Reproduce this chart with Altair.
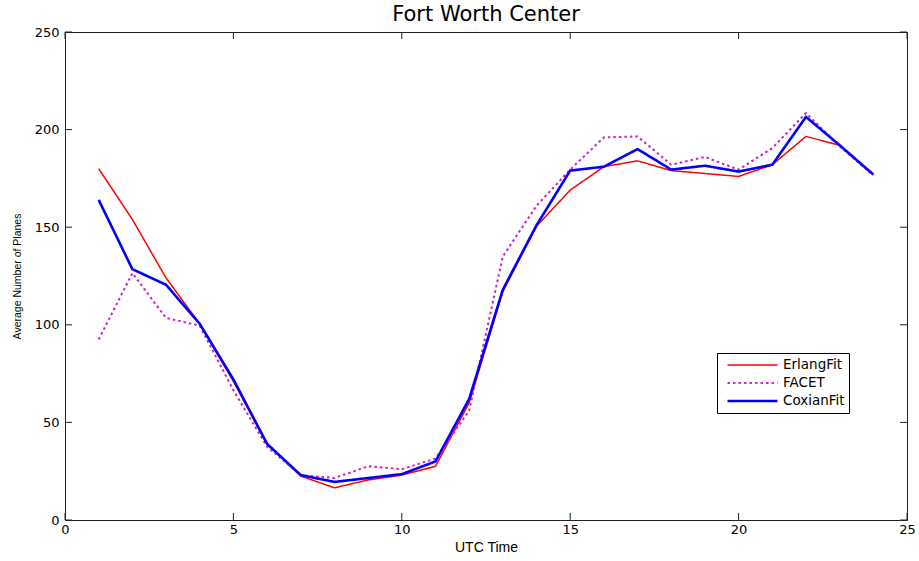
import altair as alt
import pandas as pd

# Hourly averages (UTC hour 1..24) for the three estimates
hours = list(range(1, 25))
erlang_fit = [180, 154, 124, 100.5, 71, 39, 22.5, 16.5, 20.5, 23, 27.5, 60,
              117, 150.5, 169, 181, 184, 179, 177.5, 176, 182, 196.5, 192, 177]
facet = [92.5, 126.5, 103.5, 99.5, 66.5, 37.5, 23, 21.5, 27.5, 26, 31.5, 56,
         135, 161, 179.5, 196, 196.5, 182, 186, 179.5, 190.5, 208.5, 191.5, 176.5]
coxian_fit = [164, 128.5, 120.5, 100.5, 72, 39, 23, 19.5, 21.5, 23.5, 30, 62,
              118, 151, 179, 181, 190, 179.5, 181.5, 178.5, 182, 206.5, 192, 177]

series_names = ["ErlangFit", "FACET", "CoxianFit"]
series_colors = ["#ff0000", "#cc22cc", "#0000ff"]
series_dash = [[1, 0], [2.5, 3], [1, 0]]
series_width = [1.5, 2.6, 1.5]

x_ticks = [0, 5, 10, 15, 20, 25]
y_ticks = [0, 50, 100, 150, 200, 250]

rows = []
for name, vals in zip(series_names, [erlang_fit, facet, coxian_fit]):
    for h, v in zip(hours, vals):
        rows.append({"hour": h, "planes": v, "series": name})
df = pd.DataFrame(rows)

W, H = 842, 488
TICK = 7
x_scale = alt.Scale(domain=[0, 25], nice=False, zero=False)
y_scale = alt.Scale(domain=[0, 250], nice=False)

x_axis = alt.Axis(values=x_ticks, title="UTC Time", ticks=False,
                  domain=False, grid=False, labelPadding=3, labelFlush=False,
                  labelFont="DejaVu Sans", labelFontSize=13,
                  labelColor="black", titleFont="Liberation Sans",
                  titleFontSize=14, titleFontWeight="normal",
                  titleColor="black", titlePadding=4)
y_axis = alt.Axis(values=y_ticks, title="Average Number of Planes",
                  ticks=False, domain=False, grid=False, labelFlush=False,
                  labelPadding=6, labelFont="DejaVu Sans",
                  labelFontSize=13, labelColor="black",
                  titleFont="Liberation Sans", titleFontSize=10.5,
                  titleFontWeight="normal", titleColor="black",
                  titlePadding=12)

legend = alt.Legend(
    title=None, orient="none", legendX=652, legendY=321,
    strokeColor="black", fillColor="white", padding=4,
    symbolType="stroke", symbolSize=2500, symbolStrokeWidth=2,
    symbolOffset=5, clipHeight=16, rowPadding=2,
    labelFont="DejaVu Sans", labelFontSize=13.5, labelColor="black",
    labelOffset=4, cornerRadius=0,
)

lines = alt.Chart(df).mark_line().encode(
    x=alt.X("hour:Q", scale=x_scale, axis=x_axis),
    y=alt.Y("planes:Q", scale=y_scale, axis=y_axis),
    color=alt.Color("series:N", sort=series_names,
                    scale=alt.Scale(domain=series_names, range=series_colors),
                    legend=legend),
    strokeDash=alt.StrokeDash("series:N", sort=series_names,
                              scale=alt.Scale(domain=series_names, range=series_dash),
                              legend=legend),
    strokeWidth=alt.StrokeWidth("series:N",
                                scale=alt.Scale(domain=series_names, range=series_width),
                                legend=None),
)

xt = pd.DataFrame({"hour": x_ticks})
yt = pd.DataFrame({"planes": y_ticks})
tick_x = alt.X("hour:Q", scale=x_scale, axis=x_axis)
tick_y = alt.Y("planes:Q", scale=y_scale, axis=y_axis)

# inward tick marks on all four sides of the frame
bottom_ticks = alt.Chart(xt).mark_rule(color="#222").encode(
    x=tick_x, y=alt.value(H), y2=alt.value(H - TICK))
top_ticks = alt.Chart(xt).mark_rule(color="#222").encode(
    x=tick_x, y=alt.value(0), y2=alt.value(TICK))
left_ticks = alt.Chart(yt).mark_rule(color="#222").encode(
    y=tick_y, x=alt.value(0), x2=alt.value(TICK))
right_ticks = alt.Chart(yt).mark_rule(color="#222").encode(
    y=tick_y, x=alt.value(W), x2=alt.value(W - TICK))

chart = alt.layer(
    lines, bottom_ticks, top_ticks, left_ticks, right_ticks
).properties(
    width=W, height=H,
    title=alt.TitleParams("Fort Worth Center", font="DejaVu Sans", fontSize=21,
                          fontWeight="normal", color="black", anchor="middle",
                          offset=1),
    padding={"left": 65, "top": 32, "right": 12, "bottom": 41},
    autosize=alt.AutoSizeParams(type="none"),
    background="white",
).configure_view(
    stroke="#222", strokeWidth=1
)

chart.save("out.html", embed_options={"renderer": "svg", "actions": False})
